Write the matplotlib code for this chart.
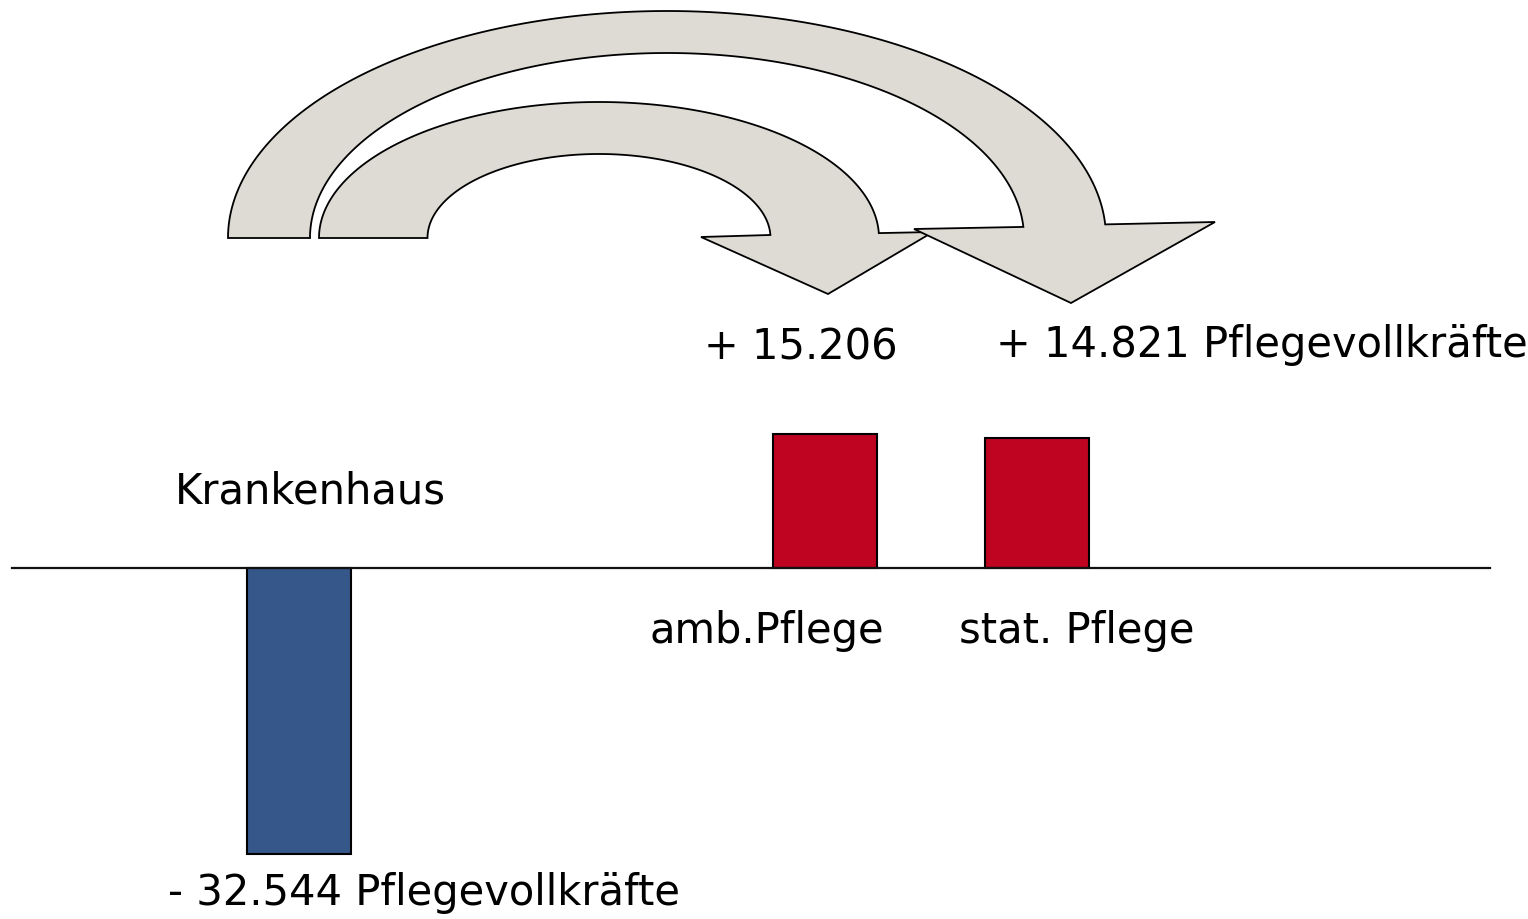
import numpy as np
import matplotlib
matplotlib.use("Agg")
import matplotlib.pyplot as plt
from matplotlib.patches import Polygon

# ---- data ----
categories = ["Krankenhaus", "amb.Pflege", "stat. Pflege"]
values = [-32544, 15206, 14821]
bar_colors = ["#35578A", "#BE0420", "#BE0420"]

def fmt(v):
    s = f"{abs(v):,}".replace(",", ".")
    return ("+ " if v > 0 else "- ") + s

# ---- layout ----
W, H = 1528, 919
fig = plt.figure(figsize=(W / 100, H / 100), dpi=100)
fig.patch.set_facecolor("white")

# chart axes (data units)
ax = fig.add_axes([0, 0, 1, 1])
ax.axis("off")
k = 0.0088            # pixels per unit
zero_px = 568         # zero line, px from top
ax.set_ylim(-(H - zero_px) / k, zero_px / k)
unit = 212.0          # px per x unit
x0_px = 299
ax.set_xlim(-x0_px / unit, (W - x0_px) / unit)
positions = [0, 2.48, 3.48]
ax.bar(positions, values, width=0.49, color=bar_colors, edgecolor="black",
       linewidth=1.5, zorder=3)
ax.axhline(0, xmin=12 / W, xmax=1490 / W, color="#111111", lw=1.6, zorder=4)

# overlay axes in pixel units for text and decorative arrows
ov = fig.add_axes([0, 0, 1, 1])
ov.set_xlim(0, W)
ov.set_ylim(H, 0)
ov.axis("off")
ov.patch.set_alpha(0)

fs = 30
font = "DejaVu Sans"
ov.text(310, 491, categories[0], fontsize=fs, family=font, ha="center", va="center")
ov.text(767, 631, categories[1], fontsize=fs, family=font, ha="center", va="center")
ov.text(1077, 631, categories[2], fontsize=fs, family=font, ha="center", va="center")
ov.text(801, 347, fmt(values[1]), fontsize=fs, family=font, ha="center", va="center")
ov.text(996, 345, fmt(values[2]) + " Pflegevollkräfte", fontsize=fs, family=font,
        ha="left", va="center")
ov.text(168, 893, fmt(values[0]) + " Pflegevollkräfte", fontsize=fs, family=font,
        ha="left", va="center")


def curved_arrow(cx, cy, ao, bo, ai, bi, t_end, outer_barb, tip, inner_barb, z):
    t = np.linspace(np.pi, t_end, 200)
    outer = np.column_stack([cx + ao * np.cos(t), cy - bo * np.sin(t)])
    t2 = t[::-1]
    inner = np.column_stack([cx + ai * np.cos(t2), cy - bi * np.sin(t2)])
    pts = np.vstack([outer, [outer_barb, tip, inner_barb], inner])
    ov.add_patch(Polygon(pts, closed=True, facecolor="#DDDBD4", edgecolor="black",
                         linewidth=1.3, joinstyle="miter", zorder=z))

# small arrow (behind), big arrow (front)
curved_arrow(599, 238, 280, 136, 171.5, 84, 0.036,
             (933, 232), (828, 294), (701, 237), 2)
curved_arrow(667, 238, 439, 227, 357, 185, 0.06,
             (1215, 222), (1071, 303), (914, 229), 3)

fig.savefig("out.png", dpi=100, facecolor="white")
